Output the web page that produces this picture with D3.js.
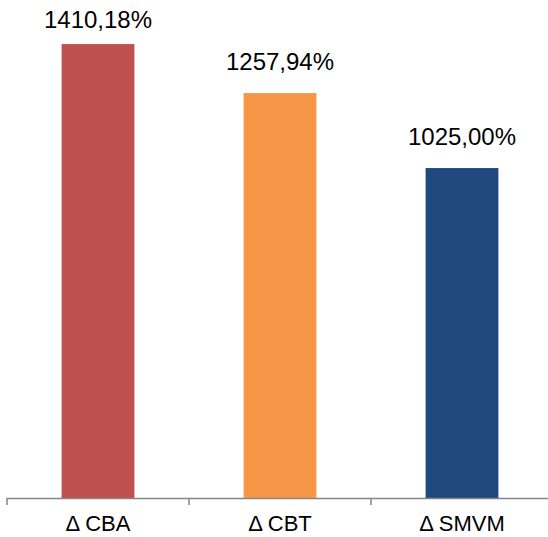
<!DOCTYPE html>
<html>
<head>
<meta charset="utf-8">
<script src="https://cdn.jsdelivr.net/npm/d3@7"></script>
<style>
  body { margin: 0; background: #fff; }
  svg { display: block; }
</style>
</head>
<body>
<svg id="chart"></svg>
<script>
var width = 548, height = 537;
var margin = {top: 0, right: -5, bottom: 39, left: 7};

var categories = ["\u0394 CBA", "\u0394 CBT", "\u0394 SMVM"];
var values = [1410.18, 1257.94, 1025.00];
var valueLabels = ["1410,18%", "1257,94%", "1025,00%"];
var colors = ["#C0504D", "#F79646", "#1F497D"];

var chart = d3.select('#chart')
    .attr('width', width)
    .attr('height', height);

var x = d3.scaleBand()
    .domain(categories)
    .range([margin.left, width - margin.right])
    .paddingInner(0.6)
    .paddingOuter(0.3);

var base = height - margin.bottom;
var y = d3.scaleLinear()
    .domain([0, 1600])
    .range([base, base - 1600 * 0.3219]);

// bars
chart.append("g")
    .selectAll("rect")
    .data(values)
    .enter()
    .append("rect")
        .attr("x", (d, i) => x(categories[i]))
        .attr("y", d => y(d))
        .attr("width", x.bandwidth())
        .attr("height", d => base - y(d))
        .attr("fill", (d, i) => colors[i]);

// axis line + ticks between categories
var step = x.step();
var edges = d3.range(categories.length + 1).map(i => margin.left + i * step);
var axis = chart.append("g");
axis.append("line")
    .attr("x1", margin.left).attr("x2", width)
    .attr("y1", base + 0.5).attr("y2", base + 0.5)
    .attr("stroke", "#868686").attr("stroke-width", 1.5);
axis.selectAll("line.tick")
    .data(edges)
    .enter()
    .append("line")
        .attr("class", "tick")
        .attr("x1", d => d).attr("x2", d => d)
        .attr("y1", base).attr("y2", base + 7)
        .attr("stroke", "#868686").attr("stroke-width", 1.5);

// category labels
chart.append("g")
    .selectAll("text")
    .data(categories)
    .enter()
    .append("text")
        .attr("x", d => x(d) + x.bandwidth() / 2)
        .attr("y", base + 33)
        .attr("text-anchor", "middle")
        .attr("font-family", "Liberation Sans, Arial, sans-serif")
        .attr("font-size", "22px")
        .attr("fill", "#000")
        .text(d => d);

// value labels
chart.append("g")
    .selectAll("text")
    .data(values)
    .enter()
    .append("text")
        .attr("x", (d, i) => x(categories[i]) + x.bandwidth() / 2)
        .attr("y", d => Math.max(y(d) - 23, 28))
        .attr("text-anchor", "middle")
        .attr("font-family", "Liberation Sans, Arial, sans-serif")
        .attr("font-size", "24px")
        .attr("fill", "#000")
        .text((d, i) => valueLabels[i]);
</script>
</body>
</html>
